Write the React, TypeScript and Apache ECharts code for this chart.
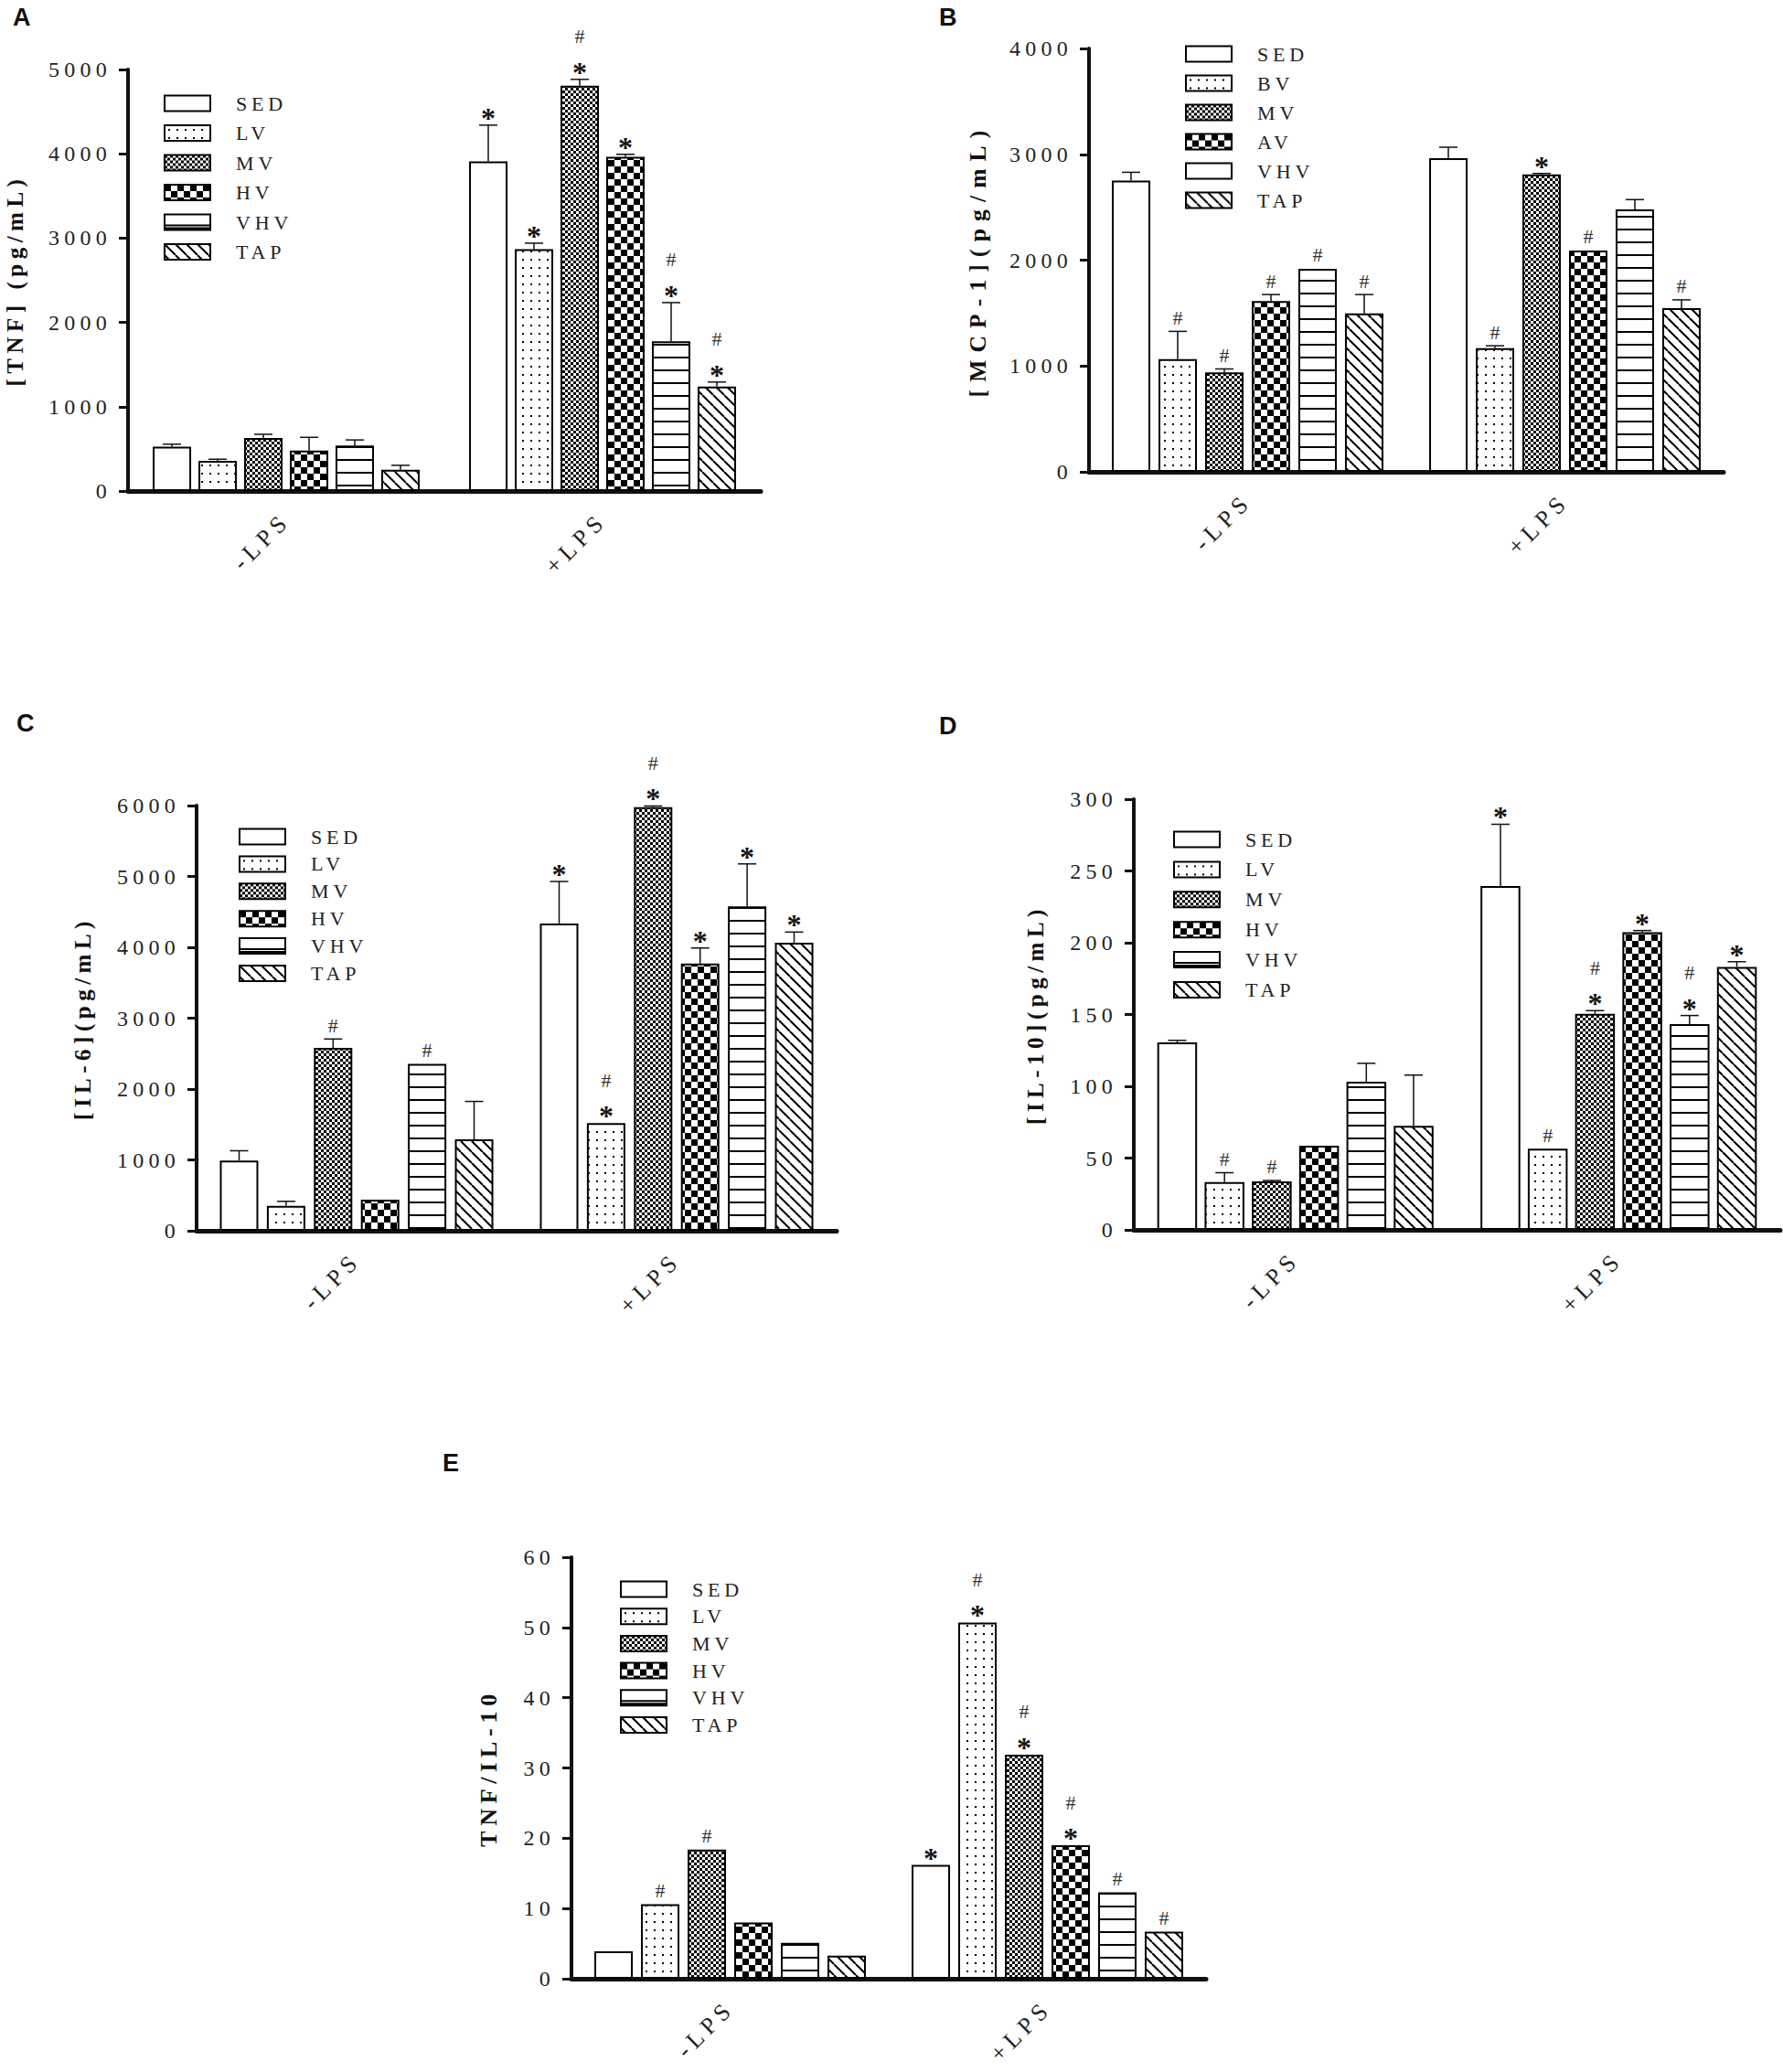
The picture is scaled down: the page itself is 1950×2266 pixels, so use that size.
import React, { useEffect, useRef } from 'react';
import * as echarts from 'echarts';

const SERIF = '"Liberation Serif", "Times New Roman", serif';
const SANS = '"Liberation Sans", Arial, sans-serif';
const LS = 0.22; // letter spacing (em), applied via CSS

const CATEGORIES = ['-LPS', '+LPS'];
const GROUPS = ['SED', 'LV', 'MV', 'HV', 'VHV', 'TAP'];
const GROUPS_B = ['SED', 'BV', 'MV', 'AV', 'VHV', 'TAP'];

// Panel A: TNF (pg/mL)  [-LPS, +LPS] per group
const TNF_TITLE = '[TNF] (pg/mL)';
const TNF_AXIS = [0, 5000, 1000];
const TNF_MEAN = [[525, 3909], [359, 2868], [628, 4807], [480, 3963], [539, 1777], [251, 1239]];
const TNF_ERR = [[31, 431], [18, 72], [45, 76], [157, 31], [67, 458], [54, 54]];
const TNF_MARK = [['', '*'], ['', '*'], ['', '#*'], ['', '*'], ['', '#*'], ['', '#*']];

// Panel B: MCP-1 (pg/mL)
const MCP_TITLE = '[MCP-1](pg/mL)';
const MCP_AXIS = [0, 4000, 1000];
const MCP_MEAN = [[2751, 2963], [1065, 1169], [940, 2809], [1614, 2091], [1919, 2479], [1496, 1546]];
const MCP_ERR = [[79, 104], [262, 22], [32, 10], [61, 0], [0, 93], [179, 79]];
const MCP_MARK = [['', ''], ['#', '#'], ['#', '*'], ['#', '#'], ['#', ''], ['#', '#']];

// Panel C: IL-6 (pg/mL)
const IL6_TITLE = '[IL-6](pg/mL)';
const IL6_AXIS = [0, 6000, 1000];
const IL6_MEAN = [[990, 4336], [351, 1520], [2580, 5977], [438, 3771], [2355, 4578], [1290, 4065]];
const IL6_ERR = [[139, 593], [64, 0], [126, 17], [0, 219], [0, 599], [535, 150]];
const IL6_MARK = [['', '*'], ['', '#*'], ['#', '#*'], ['', '*'], ['#', '*'], ['', '*']];

// Panel D: IL-10 (pg/mL)
const IL10_TITLE = '[IL-10](pg/mL)';
const IL10_AXIS = [0, 300, 50];
const IL10_MEAN = [[130.5, 239.5], [33.3, 56.6], [33.8, 150.4], [58.6, 207.3], [103.2, 143.3], [72.5, 183.2]];
const IL10_ERR = [[1.5, 43], [6.5, 0], [0.6, 2.3], [0, 1.2], [12.8, 6], [35.3, 3.6]];
const IL10_MARK = [['', '*'], ['#', '#'], ['#', '#*'], ['', '*'], ['', '#*'], ['', '*']];

// Panel E: TNF/IL-10 ratio
const RATIO_TITLE = 'TNF/IL-10';
const RATIO_AXIS = [0, 60, 10];
const RATIO_MEAN = [[3.9, 16.2], [10.6, 50.7], [18.4, 31.9], [8.0, 19.0], [5.1, 12.3], [3.3, 6.7]];
const RATIO_ERR = [[0, 0], [0, 0], [0, 0], [0, 0], [0, 0], [0, 0]];
const RATIO_MARK = [['', '*'], ['#', '#*'], ['#', '#*'], ['', '#*'], ['', '#'], ['', '#']];

const PANELS = [
  {
    letter: 'A', groups: GROUPS, title: TNF_TITLE, axis: TNF_AXIS, mean: TNF_MEAN, err: TNF_ERR, mark: TNF_MARK,
    grid: { left: 140, top: 76, width: 692, height: 461 }, bar: 42, gap: 8, nameGap: 111, nameSize: 25,
    legend: { left: 179, top: 102, pitch: 32.4 }, label: { left: 14, top: 5 }, plainVhv: false,
  },
  {
    letter: 'B', groups: GROUPS_B, title: MCP_TITLE, axis: MCP_AXIS, mean: MCP_MEAN, err: MCP_ERR, mark: MCP_MARK,
    grid: { left: 1191, top: 53, width: 694, height: 463 }, bar: 42, gap: 9, nameGap: 109, nameSize: 25.5,
    legend: { left: 1296, top: 48, pitch: 31.9 }, label: { left: 1027, top: 5 }, plainVhv: true,
  },
  {
    letter: 'C', groups: GROUPS, title: IL6_TITLE, axis: IL6_AXIS, mean: IL6_MEAN, err: IL6_ERR, mark: IL6_MARK,
    grid: { left: 215, top: 881, width: 700, height: 465 }, bar: 42, gap: 9.4, nameGap: 112, nameSize: 25,
    legend: { left: 261, top: 904, pitch: 29.8 }, label: { left: 18, top: 777 }, plainVhv: false,
  },
  {
    letter: 'D', groups: GROUPS, title: IL10_TITLE, axis: IL10_AXIS, mean: IL10_MEAN, err: IL10_ERR, mark: IL10_MARK,
    grid: { left: 1240, top: 874, width: 707, height: 471 }, bar: 43.5, gap: 8.2, nameGap: 95, nameSize: 25,
    legend: { left: 1283, top: 907, pitch: 32.8 }, label: { left: 1027, top: 780 }, plainVhv: false,
  },
  {
    letter: 'E', groups: GROUPS, title: RATIO_TITLE, axis: RATIO_AXIS, mean: RATIO_MEAN, err: RATIO_ERR, mark: RATIO_MARK,
    grid: { left: 625, top: 1703, width: 694, height: 461 }, bar: 42, gap: 9, nameGap: 78, nameSize: 26,
    legend: { left: 678, top: 1727, pitch: 29.6 }, label: { left: 484, top: 1586 }, plainVhv: false,
  },
];

const LEGEND_ROW_EXTRA = 4.9; // measured extra height of each legend row beyond the icon

function tile(w: number, h: number, draw: (c: CanvasRenderingContext2D) => void) {
  const cv = document.createElement('canvas');
  cv.width = w;
  cv.height = h;
  const ctx = cv.getContext('2d') as CanvasRenderingContext2D;
  ctx.fillStyle = '#ffffff';
  ctx.fillRect(0, 0, w, h);
  ctx.fillStyle = '#000000';
  ctx.strokeStyle = '#000000';
  draw(ctx);
  return { image: cv.toDataURL('image/png'), repeat: 'repeat', imageWidth: w, imageHeight: h };
}

function makePatterns(): any[] {
  return [
    '#ffffff',
    tile(9, 9, (c) => c.fillRect(4, 4, 2, 2)),
    tile(6, 6, (c) => { c.fillRect(0, 0, 3, 3); c.fillRect(3, 3, 3, 3); }),
    tile(14, 14, (c) => { c.fillRect(0, 0, 7, 7); c.fillRect(7, 7, 7, 7); }),
    tile(4, 14, (c) => c.fillRect(0, 12, 4, 2)),
    tile(12, 12, (c) => {
      c.lineWidth = 2;
      [-1, 0, 1].forEach((k) => {
        c.beginPath();
        c.moveTo(k * 12, 0);
        c.lineTo(k * 12 + 12, 12);
        c.stroke();
      });
    }),
  ];
}

function errSeries(p: any, gi: number, slot: number) {
  const pitch = p.bar + p.gap;
  return {
    type: 'custom',
    name: 'err-' + gi + '-' + slot,
    xAxisIndex: gi,
    yAxisIndex: gi,
    z: 10,
    silent: true,
    encode: { x: 0, y: 1 },
    data: CATEGORIES.map((_, j) => [j, p.mean[slot][j], p.err[slot][j]]),
    renderItem: (params: any, api: any) => {
      const j = api.value(0);
      const m = api.value(1);
      const e = api.value(2);
      const cx = api.coord([j, 0])[0] + (slot - 2.5) * pitch;
      const yBar = api.coord([j, m])[1];
      const yTop = api.coord([j, m + e])[1];
      const children: any[] = [];
      if (e > 0) {
        children.push({ type: 'line', shape: { x1: cx, y1: yBar, x2: cx, y2: yTop }, style: { stroke: '#111', lineWidth: 1.5 } });
        children.push({ type: 'line', shape: { x1: cx - 10, y1: yTop, x2: cx + 10, y2: yTop }, style: { stroke: '#111', lineWidth: 1.5 } });
      }
      const mk: string = p.mark[slot][j];
      const hasStar = mk.indexOf('*') >= 0;
      const hasHash = mk.indexOf('#') >= 0;
      if (hasStar) {
        children.push({
          type: 'text', x: cx + LS * 32 / 2, y: yTop - 8,
          style: { text: '*', fontSize: 32, fontWeight: 'bold', fontFamily: SERIF, fill: '#111', align: 'center', verticalAlign: 'middle' },
        });
      }
      if (hasHash) {
        children.push({
          type: 'text', x: cx + LS * 22 / 2, y: hasStar ? yTop - 47 : yTop - 15,
          style: { text: '#', fontSize: 22, fontFamily: SERIF, fill: '#333', align: 'center', verticalAlign: 'middle' },
        });
      }
      return { type: 'group', children };
    },
  };
}

function buildOption() {
  const PAT = makePatterns();
  const grid: any[] = [];
  const xAxis: any[] = [];
  const yAxis: any[] = [];
  const series: any[] = [];
  const legend: any[] = [];
  const title: any[] = [];

  PANELS.forEach((p, gi) => {
    grid.push({ ...p.grid });
    xAxis.push({
      gridIndex: gi,
      type: 'category',
      data: CATEGORIES,
      axisLine: { lineStyle: { color: '#111', width: 5 } },
      axisTick: { alignWithLabel: true, length: 13, lineStyle: { color: '#111', width: 4 } },
      axisLabel: { rotate: 45, margin: 28, fontSize: 26, fontFamily: SERIF, color: '#222' },
    });
    yAxis.push({
      gridIndex: gi,
      type: 'value',
      min: p.axis[0],
      max: p.axis[1],
      interval: p.axis[2],
      name: p.title,
      nameLocation: 'middle',
      nameGap: p.nameGap,
      nameTextStyle: { fontFamily: SERIF, fontWeight: 'bold', fontSize: p.nameSize, color: '#111' },
      axisLine: { show: true, lineStyle: { color: '#111', width: 4 } },
      axisTick: { show: true, length: 10, lineStyle: { color: '#111', width: 3 } },
      axisLabel: {
        margin: 18, fontSize: 24, fontFamily: SERIF, color: '#222', padding: [6, 0, 0, 0],
        formatter: (v: number) => String(v),
      },
      splitLine: { show: false },
    });
    title.push({
      text: p.letter,
      left: p.label.left,
      top: p.label.top,
      padding: 0,
      textStyle: { fontFamily: SANS, fontWeight: 'bold', fontSize: 27, color: '#111' },
    });
    legend.push({
      orient: 'vertical',
      left: p.legend.left,
      top: p.legend.top,
      padding: 0,
      itemWidth: 50,
      itemHeight: 17,
      itemGap: p.legend.pitch - 17 - LEGEND_ROW_EXTRA,
      selectedMode: false,
      textStyle: { fontFamily: SERIF, fontSize: 22, color: '#222', lineHeight: 9, padding: [8, 0, 0, 23] },
      data: p.groups.map((g, s) => {
        const vhv = s === 4;
        return {
          name: g,
          icon: vhv && !p.plainVhv ? 'path://M0,0H50V17H0Z M0,12H50V15H0Z' : 'rect',
          itemStyle: { color: vhv ? '#ffffff' : PAT[s], borderColor: '#000', borderWidth: 2 },
        };
      }),
    });
    p.groups.forEach((g, s) => {
      series.push({
        type: 'bar',
        name: g,
        xAxisIndex: gi,
        yAxisIndex: gi,
        data: p.mean[s],
        barWidth: p.bar,
        barGap: ((p.gap / p.bar) * 100).toFixed(1) + '%',
        itemStyle: { color: PAT[s], borderColor: '#000', borderWidth: 2 },
        silent: true,
        z: 2,
      });
      series.push(errSeries(p, gi, s));
    });
  });

  return {
    animation: false,
    backgroundColor: '#ffffff',
    textStyle: { fontFamily: SERIF },
    title,
    legend,
    grid,
    xAxis,
    yAxis,
    series,
  };
}

const CSS =
  '#root svg text { letter-spacing: ' + LS + 'em; }' +
  ' #root svg text[style*="25.5px"] { letter-spacing: 0.32em; }';

export default function App() {
  const ref = useRef<HTMLDivElement>(null);
  useEffect(() => {
    document.body.style.margin = '0';
    const chart = echarts.init(ref.current as HTMLDivElement, null, { renderer: 'svg', width: 1950, height: 2266 });
    chart.setOption(buildOption() as any);
    return () => chart.dispose();
  }, []);
  return (
    <>
      <style>{CSS}</style>
      <div ref={ref} style={{ width: 1950, height: 2266, background: '#fff' }} />
    </>
  );
}
